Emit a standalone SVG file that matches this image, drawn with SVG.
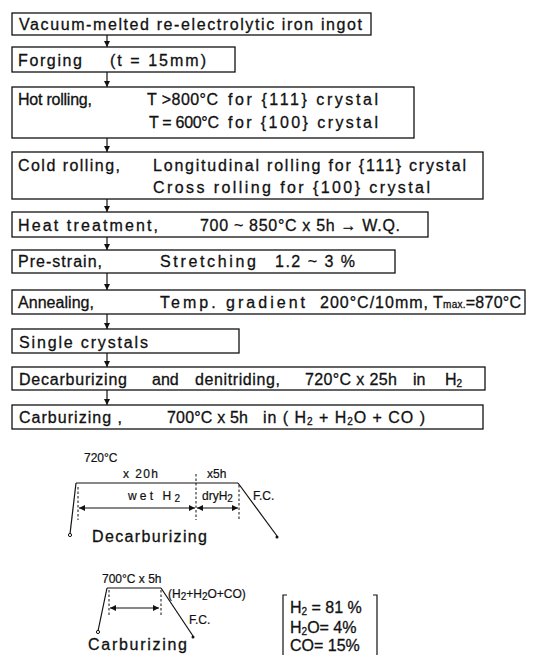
<svg xmlns="http://www.w3.org/2000/svg" width="533" height="655" viewBox="0 0 533 655">
<defs>
<style>
.box{fill:none;stroke:#111;stroke-width:1.3}
.ln{fill:none;stroke:#111;stroke-width:1.2}
.ds{fill:none;stroke:#111;stroke-width:1;stroke-dasharray:2.5 2}
text{font-family:"Liberation Sans","DejaVu Sans",sans-serif;fill:#111;stroke:#111;stroke-width:0.3}
.t{font-size:16px}
.s{font-size:12px;stroke-width:0.2}
.m{font-size:16px}
.sub{font-size:10px}
</style>
<marker id="ah" viewBox="0 0 10 10" refX="10" refY="5" markerWidth="5" markerHeight="5" orient="auto-start-reverse">
<path d="M0,0 L10,5 L0,10 z" fill="#111"/>
</marker>
</defs>
<rect width="533" height="655" fill="#fff"/>

<g id="connectors">
<line class="ln" x1="107" y1="35" x2="107" y2="47" marker-end="url(#ah)"/>
<line class="ln" x1="107" y1="72" x2="107" y2="87" marker-end="url(#ah)"/>
<line class="ln" x1="107" y1="138" x2="107" y2="152" marker-end="url(#ah)"/>
<line class="ln" x1="107" y1="199" x2="107" y2="212" marker-end="url(#ah)"/>
<line class="ln" x1="107" y1="237" x2="107" y2="250" marker-end="url(#ah)"/>
<line class="ln" x1="107" y1="273" x2="107" y2="290" marker-end="url(#ah)"/>
<line class="ln" x1="107" y1="314" x2="107" y2="329" marker-end="url(#ah)"/>
<line class="ln" x1="107" y1="353" x2="107" y2="367" marker-end="url(#ah)"/>
<line class="ln" x1="107" y1="390" x2="107" y2="405" marker-end="url(#ah)"/>
</g>

<g id="n1">
<rect class="box" x="12" y="13" width="359" height="22"/>
<text class="t" x="19" y="30" textLength="343" lengthAdjust="spacing">Vacuum-melted re-electrolytic iron ingot</text>
</g>
<g id="n2">
<rect class="box" x="12" y="47" width="223" height="25"/>
<text class="t" x="18" y="66" textLength="64" lengthAdjust="spacing">Forging</text>
<text class="t" x="110" y="66" textLength="96" lengthAdjust="spacing">(t = 15mm)</text>
</g>
<g id="n3">
<rect class="box" x="12" y="87" width="402" height="51"/>
<text class="t" x="18" y="105" textLength="74" lengthAdjust="spacing">Hot rolling,</text>
<text class="t" x="147" y="105" textLength="71" lengthAdjust="spacing">T &gt;800°C</text>
<text class="t" x="228" y="105" textLength="150" lengthAdjust="spacing">for {111} crystal</text>
<text class="t" x="149" y="128" textLength="70" lengthAdjust="spacing">T = 600°C</text>
<text class="t" x="228" y="128" textLength="150" lengthAdjust="spacing">for {100} crystal</text>
</g>
<g id="n4">
<rect class="box" x="12" y="152" width="471" height="47"/>
<text class="t" x="18" y="171" textLength="102" lengthAdjust="spacing">Cold rolling,</text>
<text class="t" x="153" y="171" textLength="313" lengthAdjust="spacing">Longitudinal rolling for {111} crystal</text>
<text class="t" x="153" y="193" textLength="277" lengthAdjust="spacing">Cross rolling for {100} crystal</text>
</g>
<g id="n5">
<rect class="box" x="12" y="212" width="416" height="25"/>
<text class="t" x="18" y="231" textLength="140" lengthAdjust="spacing">Heat treatment,</text>
<text class="t" x="200" y="231" textLength="200" lengthAdjust="spacing">700 ~ 850°C x 5h → W.Q.</text>
</g>
<g id="n6">
<rect class="box" x="12" y="250" width="383" height="23"/>
<text class="t" x="18" y="267" textLength="84" lengthAdjust="spacing">Pre-strain,</text>
<text class="t" x="160" y="267" textLength="96" lengthAdjust="spacing">Stretching</text>
<text class="t" x="275" y="267" textLength="80" lengthAdjust="spacing">1.2 ~ 3 %</text>
</g>
<g id="n7">
<rect class="box" x="12" y="290" width="513" height="24"/>
<text class="t" x="18" y="308" textLength="76" lengthAdjust="spacing">Annealing,</text>
<text class="t" x="160" y="308" textLength="145" lengthAdjust="spacing">Temp. gradient</text>
<text class="t" x="320" y="308" textLength="108" lengthAdjust="spacing">200°C/10mm,</text>
<text class="t" x="433" y="308" textLength="88" lengthAdjust="spacing">T<tspan class="sub">max.</tspan>=870°C</text>
</g>
<g id="n8">
<rect class="box" x="12" y="329" width="227" height="24"/>
<text class="t" x="19" y="348" textLength="129" lengthAdjust="spacing">Single crystals</text>
</g>
<g id="n9">
<rect class="box" x="12" y="367" width="473" height="23"/>
<text class="t" x="19" y="385" textLength="108" lengthAdjust="spacing">Decarburizing</text>
<text class="t" x="152" y="385">and</text>
<text class="t" x="195" y="385" textLength="85" lengthAdjust="spacing">denitriding,</text>
<text class="t" x="305" y="385" textLength="92" lengthAdjust="spacing">720°C x 25h</text>
<text class="t" x="413" y="385">in</text>
<text class="t" x="445" y="385">H<tspan class="sub" dy="2">2</tspan></text>
</g>
<g id="n10">
<rect class="box" x="12" y="405" width="471" height="24"/>
<text class="t" x="19" y="423" textLength="103" lengthAdjust="spacing">Carburizing ,</text>
<text class="t" x="167" y="423" textLength="81" lengthAdjust="spacing">700°C x 5h</text>
<text class="t" x="263" y="423" textLength="162" lengthAdjust="spacing">in ( H<tspan class="sub" dy="2">2</tspan><tspan dy="-2"> + H</tspan><tspan class="sub" dy="2">2</tspan><tspan dy="-2">O + CO )</tspan></text>
</g>

<g id="decarb-chart">
<line class="ln" x1="70" y1="534" x2="76" y2="483"/>
<circle cx="70" cy="535" r="1.6" fill="#fff" stroke="#111" stroke-width="1"/>
<line class="ln" x1="76" y1="483" x2="238" y2="483"/>
<line class="ln" x1="238" y1="483" x2="277" y2="536"/>
<circle cx="277" cy="537" r="1.5" fill="#111"/>
<line class="ds" x1="78" y1="487" x2="78" y2="520"/>
<line class="ds" x1="196" y1="474" x2="196" y2="520"/>
<line class="ds" x1="239" y1="485" x2="239" y2="520"/>
<line class="ln" x1="79" y1="508" x2="195" y2="508" marker-start="url(#ah)" marker-end="url(#ah)"/>
<line class="ln" x1="197" y1="508" x2="238" y2="508" marker-start="url(#ah)" marker-end="url(#ah)"/>
<text class="s" x="84" y="462">720°C</text>
<text class="s" x="123" y="478" textLength="35" lengthAdjust="spacing">x 20h</text>
<text class="s" x="207" y="478">x5h</text>
<text class="s" x="128" y="500" textLength="52" lengthAdjust="spacing">wet H<tspan class="sub" dy="2">2</tspan></text>
<text class="s" x="202" y="500">dryH<tspan class="sub" dy="2">2</tspan></text>
<text class="s" x="253" y="500">F.C.</text>
<text class="m" x="92" y="542" textLength="115" lengthAdjust="spacing">Decarburizing</text>
</g>

<g id="carb-chart">
<line class="ln" x1="98" y1="631" x2="107" y2="588"/>
<circle cx="98" cy="632" r="1.6" fill="#fff" stroke="#111" stroke-width="1"/>
<line class="ln" x1="107" y1="588" x2="161" y2="588"/>
<line class="ln" x1="161" y1="588" x2="193" y2="636"/>
<circle cx="193" cy="637" r="1.5" fill="#111"/>
<line class="ds" x1="109" y1="590" x2="109" y2="615"/>
<line class="ds" x1="161" y1="590" x2="161" y2="615"/>
<line class="ln" x1="110" y1="608" x2="159" y2="608" marker-start="url(#ah)" marker-end="url(#ah)"/>
<text class="s" x="102" y="583">700°C x 5h</text>
<text class="s" x="168" y="598" font-size="11">(H<tspan class="sub" dy="2">2</tspan><tspan dy="-2">+H</tspan><tspan class="sub" dy="2">2</tspan><tspan dy="-2">O+CO)</tspan></text>
<text class="s" x="189" y="624">F.C.</text>
<text class="m" x="88" y="650" font-size="15" textLength="99" lengthAdjust="spacing">Carburizing</text>
</g>

<g id="composition">
<path class="ln" d="M287,595 H283 V655"/>
<path class="ln" d="M373,595 H377 V655"/>
<text class="m" x="290" y="613">H<tspan class="sub" dy="2">2</tspan><tspan dy="-2"> = 81 %</tspan></text>
<text class="m" x="290" y="633">H<tspan class="sub" dy="2">2</tspan><tspan dy="-2">O=  4%</tspan></text>
<text class="m" x="290" y="651">CO= 15%</text>
</g>
</svg>
